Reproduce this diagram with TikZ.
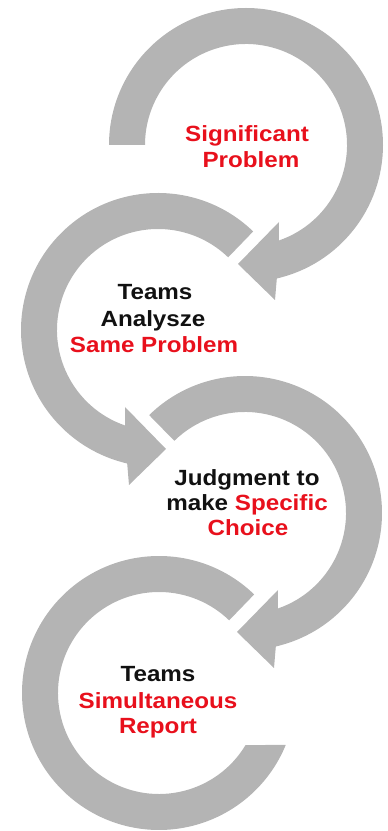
\documentclass[tikz,border=0pt]{standalone}
\usepackage{fontspec}
\setmainfont{Liberation Sans}[FakeStretch=1.1]
\definecolor{arcgray}{HTML}{B4B4B4}
\definecolor{txtred}{HTML}{E8101C}
\definecolor{txtblack}{HTML}{111111}
\begin{document}
\begin{tikzpicture}[x=1pt,y=1pt,
  arcshape/.style={fill=arcgray, draw=none},
  lbl/.style={inner sep=0pt, anchor=base, font=\fontsize{22}{26}\selectfont\bfseries, text=txtblack},
  redlbl/.style={lbl, text=txtred}]
\useasboundingbox (0,0) rectangle (388,831);

% Arc 1 (top, clockwise)
\begin{scope}[shift={(246,686)}]
\fill[arcshape] (180:137) arc[start angle=180, end angle=-77, radius=137]
  -- (29,-155) -- (-8,-119) -- (33,-77) -- (-71:101)
  arc[start angle=-71, end angle=180, radius=101] -- cycle;
\end{scope}

% Arc 2 (counter-clockwise)
\begin{scope}[shift={(158,501)}]
\fill[arcshape] (46:137) arc[start angle=46, end angle=257, radius=137]
  -- (-29,-155) -- (8,-119) -- (-33,-77) -- (251:101)
  arc[start angle=251, end angle=46, radius=101] -- cycle;
\end{scope}

% Arc 3 (clockwise)
\begin{scope}[shift={(245,318)}]
\fill[arcshape] (134.4:137) arc[start angle=134.4, end angle=-77, radius=137]
  -- (29,-155) -- (-8,-119) -- (33,-77) -- (-71:101)
  arc[start angle=-71, end angle=134.4, radius=101] -- cycle;
\end{scope}

% Arc 4 (bottom, no arrowhead)
\begin{scope}[shift={(159,138)}]
\fill[arcshape] (46:137) arc[start angle=46, end angle=337.7, radius=137]
  -- (329:101) arc[start angle=329, end angle=46, radius=101] -- cycle;
\end{scope}

% Texts
\node[redlbl] (t1a) at (247,689) {Significant};
\node[redlbl] (t1b) at (251,663) {Problem};

\node[lbl] (t2a) at (155,531) {Teams};
\node[lbl] (t2b) at (153,504) {Analysze};
\node[redlbl] (t2c) at (154,478) {Same Problem};

\node[lbl] (t3a) at (247,345) {Judgment to};
\node[lbl] (t3b) at (247,320) {make \textcolor{txtred}{Specific}};
\node[redlbl] (t3c) at (248,295) {Choice};

\node[lbl] (t4a) at (158,149) {Teams};
\node[redlbl] (t4b) at (158,122) {Simultaneous};
\node[redlbl] (t4c) at (158,97) {Report};
\end{tikzpicture}
\end{document}
